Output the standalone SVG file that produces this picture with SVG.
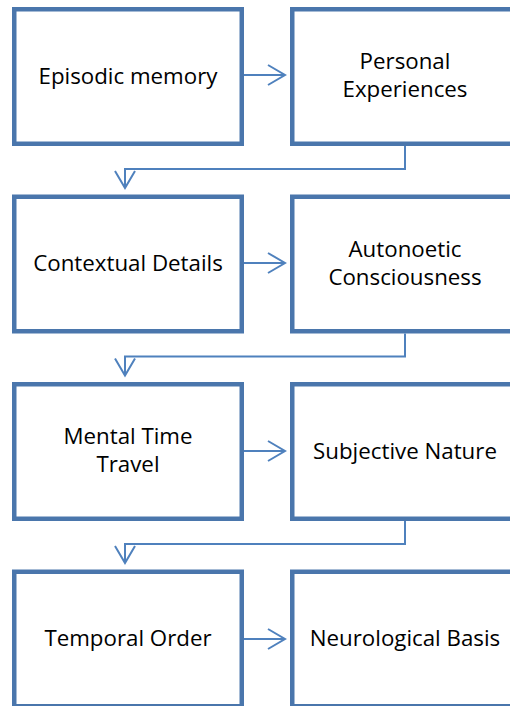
<svg xmlns="http://www.w3.org/2000/svg" width="510" height="706" viewBox="0 0 510 706">
<style>
.box{fill:#fff;stroke:#4a76ac;stroke-width:4.5}
.t{font-family:"Open Sans","Liberation Sans",sans-serif;font-size:22.3px;fill:#000;text-anchor:middle}
.c{fill:none;stroke:#4f81bd;stroke-width:2}
</style>
<defs>
<marker id="ah" viewBox="0 0 20 22" refX="18" refY="11" markerWidth="20" markerHeight="22" markerUnits="userSpaceOnUse" orient="auto">
<path d="M1,1 L18,11 L1,21" fill="none" stroke="#4f81bd" stroke-width="2"/>
</marker>
</defs>
<rect width="510" height="706" fill="#fff"/>
<g id="n1"><rect class="box" x="14.25" y="9.25" width="227.5" height="134.5"/><text class="t" x="128" y="83.5">Episodic memory</text></g>
<g id="n2"><rect class="box" x="292.25" y="9.25" width="227.5" height="134.5"/><text class="t" x="405" y="69">Personal</text><text class="t" x="405" y="97">Experiences</text></g>
<g id="n3"><rect class="box" x="14.25" y="196.75" width="227.5" height="134.5"/><text class="t" x="128" y="271">Contextual Details</text></g>
<g id="n4"><rect class="box" x="292.25" y="196.75" width="227.5" height="134.5"/><text class="t" x="405" y="256.5">Autonoetic</text><text class="t" x="405" y="284.5">Consciousness</text></g>
<g id="n5"><rect class="box" x="14.25" y="384.25" width="227.5" height="134.5"/><text class="t" x="128" y="444">Mental Time</text><text class="t" x="128" y="472">Travel</text></g>
<g id="n6"><rect class="box" x="292.25" y="384.25" width="227.5" height="134.5"/><text class="t" x="405" y="458.5">Subjective Nature</text></g>
<g id="n7"><rect class="box" x="14.25" y="571.75" width="227.5" height="134.5"/><text class="t" x="128" y="646">Temporal Order</text></g>
<g id="n8"><rect class="box" x="292.25" y="571.75" width="227.5" height="134.5"/><text class="t" x="405" y="646">Neurological Basis</text></g>
<g id="connectors">
<path class="c" d="M244,75 H285" marker-end="url(#ah)"/>
<path class="c" d="M244,263 H285" marker-end="url(#ah)"/>
<path class="c" d="M244,451 H285" marker-end="url(#ah)"/>
<path class="c" d="M244,639 H285" marker-end="url(#ah)"/>
<path class="c" d="M405,146 V169 H125 V188" marker-end="url(#ah)"/>
<path class="c" d="M405,333.5 V356.5 H125 V375.5" marker-end="url(#ah)"/>
<path class="c" d="M405,521 V544 H125 V563" marker-end="url(#ah)"/>
</g>
</svg>
